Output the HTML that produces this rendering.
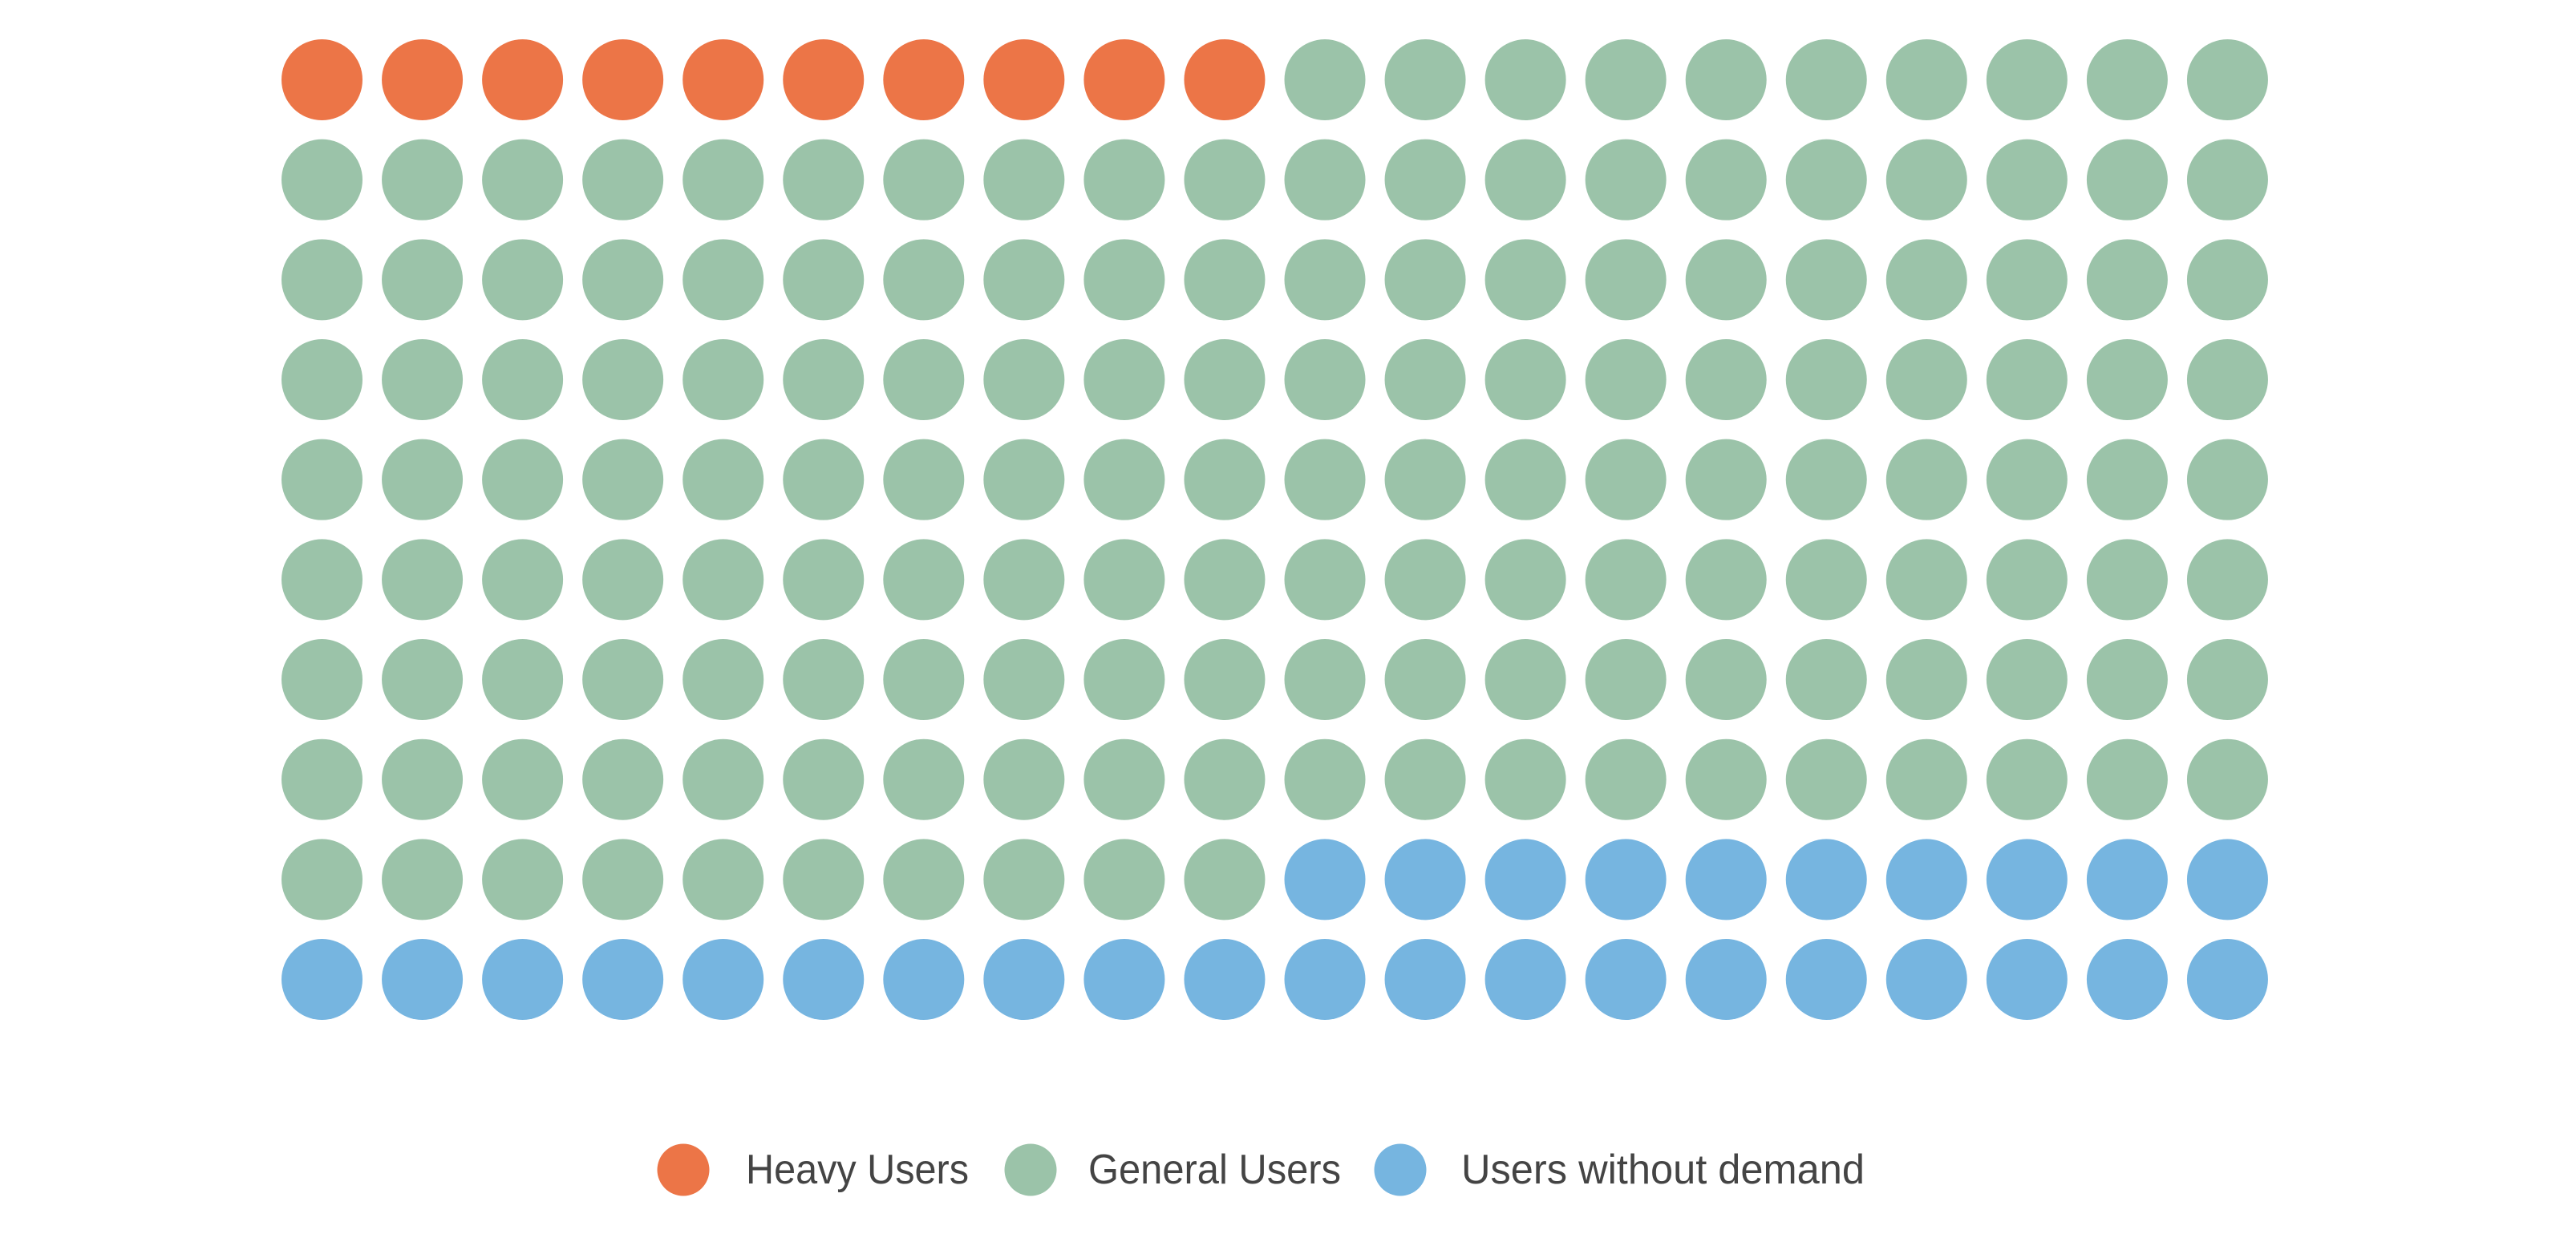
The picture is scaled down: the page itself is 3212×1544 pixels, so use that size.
<!DOCTYPE html>
<html><head><style>body{margin:0;background:#fff}svg{display:block}</style></head>
<body>
<svg width="3212" height="1544" xmlns="http://www.w3.org/2000/svg" id="s">
<g id="dots"></g>
<circle cx="852" cy="1459" r="32.5" fill="#ec7547"/>
<circle cx="1285" cy="1459" r="32.5" fill="#9bc3a9"/>
<circle cx="1746" cy="1459" r="32.5" fill="#76b5e0"/>
<g font-family="Liberation Sans, sans-serif" font-size="52" fill="#444">
<text x="930" y="1476" textLength="278" lengthAdjust="spacingAndGlyphs">Heavy Users</text>
<text x="1357" y="1476" textLength="315" lengthAdjust="spacingAndGlyphs">General Users</text>
<text x="1822" y="1476" textLength="503" lengthAdjust="spacingAndGlyphs">Users without demand</text>
</g>
</svg>
<script>
var g=document.getElementById('dots'),h='';
for(var j=0;j<10;j++)for(var i=0;i<20;i++){var k=j*20+i;var c=k<10?'#ec7547':(k<170?'#9bc3a9':'#76b5e0');
h+='<circle cx="'+(401.5+125.05*i)+'" cy="'+(99.5+124.67*j)+'" r="50.5" fill="'+c+'"/>';}
g.innerHTML=h;
</script>
</body></html>
